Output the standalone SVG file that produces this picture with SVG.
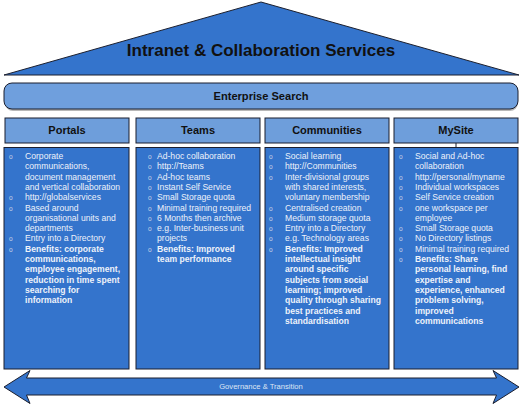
<svg xmlns="http://www.w3.org/2000/svg" width="523" height="406" viewBox="0 0 523 406">
<style>
.dark{stroke:#1b1f2e;stroke-width:1}
.roof{fill:#3474cc}
.bar{fill:#6f9fdd}
.hdr{fill:#6e9edb}
.body{fill:#3474cc}
.ht{font-family:"Liberation Sans",Arial,sans-serif;font-weight:bold;fill:#111;text-anchor:middle}
.bt{font-family:"Liberation Sans",Arial,sans-serif;font-size:8.6px;fill:#eef2fa}
.b{font-weight:bold}
.bul{font-family:"Liberation Sans",Arial,sans-serif;font-size:6.5px;fill:#c9d3e6}
</style>
<rect width="523" height="406" fill="#ffffff"/>
<g id="roof">
<polygon class="roof dark" points="261,2 519,75 4,75"/>
<text class="ht" x="261" y="56" font-size="17">Intranet &amp; Collaboration Services</text>
</g>
<g id="enterprise-search">
<rect x="5" y="84" width="513" height="26" rx="8" fill="#b8b8b8" transform="translate(0,1)"/>
<rect class="bar dark" x="4" y="83" width="514" height="26" rx="8"/>
<text class="ht" x="261" y="100" font-size="11.1">Enterprise Search</text>
</g>
<g id="portals">
<rect class="hdr dark" x="5" y="118" width="124" height="25"/>
<text class="ht" x="67" y="134" font-size="11">Portals</text>
<rect class="body dark" x="4" y="147.5" width="125" height="221.5"/>
<g class="bul"><text x="9" y="159">o</text><text x="9" y="200.2">o</text><text x="9" y="210.5">o</text><text x="9" y="241.4">o</text><text x="9" y="251.7">o</text></g>
<text class="bt" x="25" y="159"><tspan x="25">Corporate</tspan><tspan x="25" dy="10.3">communications,</tspan><tspan x="25" dy="10.3">document management</tspan><tspan x="25" dy="10.3">and vertical collaboration</tspan><tspan x="25" dy="10.3">http://globalservices</tspan><tspan x="25" dy="10.3">Based around</tspan><tspan x="25" dy="10.3">organisational units and</tspan><tspan x="25" dy="10.3">departments</tspan><tspan x="25" dy="10.3">Entry into a Directory</tspan><tspan class="b" x="25" dy="10.3">Benefits: corporate</tspan><tspan class="b" x="25" dy="10.3">communications,</tspan><tspan class="b" x="25" dy="10.3">employee engagement,</tspan><tspan class="b" x="25" dy="10.3">reduction in time spent</tspan><tspan class="b" x="25" dy="10.3">searching for</tspan><tspan class="b" x="25" dy="10.3">information</tspan></text>
</g>
<g id="teams">
<rect class="hdr dark" x="136" y="118" width="124" height="25"/>
<text class="ht" x="198" y="134" font-size="11">Teams</text>
<rect class="body dark" x="136" y="147.5" width="124" height="221.5"/>
<g class="bul"><text x="148" y="159">o</text><text x="148" y="169.3">o</text><text x="148" y="179.6">o</text><text x="148" y="189.9">o</text><text x="148" y="200.2">o</text><text x="148" y="210.5">o</text><text x="148" y="220.8">o</text><text x="148" y="231.1">o</text><text x="148" y="251.7">o</text></g>
<text class="bt" x="157" y="159"><tspan x="157">Ad-hoc collaboration</tspan><tspan x="157" dy="10.3">http://Teams</tspan><tspan x="157" dy="10.3">Ad-hoc teams</tspan><tspan x="157" dy="10.3">Instant Self Service</tspan><tspan x="157" dy="10.3">Small Storage quota</tspan><tspan x="157" dy="10.3">Minimal training required</tspan><tspan x="157" dy="10.3">6 Months then archive</tspan><tspan x="157" dy="10.3">e.g. Inter-business unit</tspan><tspan x="157" dy="10.3">projects</tspan><tspan class="b" x="157" dy="10.3">Benefits: Improved</tspan><tspan class="b" x="157" dy="10.3">team performance</tspan></text>
</g>
<g id="communities">
<rect class="hdr dark" x="265" y="118" width="124" height="25"/>
<text class="ht" x="327" y="134" font-size="11">Communities</text>
<rect class="body dark" x="265" y="147.5" width="124" height="221.5"/>
<g class="bul"><text x="269" y="159">o</text><text x="269" y="169.3">o</text><text x="269" y="179.6">o</text><text x="269" y="210.5">o</text><text x="269" y="220.8">o</text><text x="269" y="231.1">o</text><text x="269" y="241.4">o</text><text x="269" y="251.7">o</text></g>
<text class="bt" x="285" y="159"><tspan x="285">Social learning</tspan><tspan x="285" dy="10.3">http://Communities</tspan><tspan x="285" dy="10.3">Inter-divisional groups</tspan><tspan x="285" dy="10.3">with shared interests,</tspan><tspan x="285" dy="10.3">voluntary membership</tspan><tspan x="285" dy="10.3">Centralised creation</tspan><tspan x="285" dy="10.3">Medium storage quota</tspan><tspan x="285" dy="10.3">Entry into a Directory</tspan><tspan x="285" dy="10.3">e.g. Technology areas</tspan><tspan class="b" x="285" dy="10.3">Benefits: Improved</tspan><tspan class="b" x="285" dy="10.3">intellectual insight</tspan><tspan class="b" x="285" dy="10.3">around specific</tspan><tspan class="b" x="285" dy="10.3">subjects from social</tspan><tspan class="b" x="285" dy="10.3">learning; improved</tspan><tspan class="b" x="285" dy="10.3">quality through sharing</tspan><tspan class="b" x="285" dy="10.3">best practices and</tspan><tspan class="b" x="285" dy="10.3">standardisation</tspan></text>
</g>
<g id="mysite">
<rect class="hdr dark" x="394" y="118" width="124" height="25"/>
<text class="ht" x="456" y="134" font-size="11">MySite</text>
<rect class="body dark" x="394" y="147.5" width="124" height="221.5"/>
<g class="bul"><text x="399" y="159">o</text><text x="399" y="179.6">o</text><text x="399" y="189.9">o</text><text x="399" y="200.2">o</text><text x="399" y="210.5">o</text><text x="399" y="231.1">o</text><text x="399" y="241.4">o</text><text x="399" y="251.7">o</text><text x="399" y="262">o</text></g>
<text class="bt" x="415" y="159"><tspan x="415">Social and Ad-hoc</tspan><tspan x="415" dy="10.3">collaboration</tspan><tspan x="415" dy="10.3">http://personal/myname</tspan><tspan x="415" dy="10.3">Individual workspaces</tspan><tspan x="415" dy="10.3">Self Service creation</tspan><tspan x="415" dy="10.3">one workspace per</tspan><tspan x="415" dy="10.3">employee</tspan><tspan x="415" dy="10.3">Small Storage quota</tspan><tspan x="415" dy="10.3">No Directory listings</tspan><tspan x="415" dy="10.3">Minimal training required</tspan><tspan class="b" x="415" dy="10.3">Benefits: Share</tspan><tspan class="b" x="415" dy="10.3">personal learning, find</tspan><tspan class="b" x="415" dy="10.3">expertise and</tspan><tspan class="b" x="415" dy="10.3">experience, enhanced</tspan><tspan class="b" x="415" dy="10.3">problem solving,</tspan><tspan class="b" x="415" dy="10.3">improved</tspan><tspan class="b" x="415" dy="10.3">communications</tspan></text>
</g>
<g id="governance">
<polygon class="roof dark" points="4,387 30,370.5 26.5,378 496.5,378 493,370.5 519,387 493,403.5 496.5,395 26.5,395 30,403.5"/>
<text x="261" y="389" font-family="Liberation Sans, Arial, sans-serif" font-size="7.6" fill="#dfe6f4" text-anchor="middle">Governance &amp; Transition</text>
</g>
<g id="connectors">
<line class="dark" x1="456" y1="143" x2="456" y2="147.5"/>
</g>
</svg>
